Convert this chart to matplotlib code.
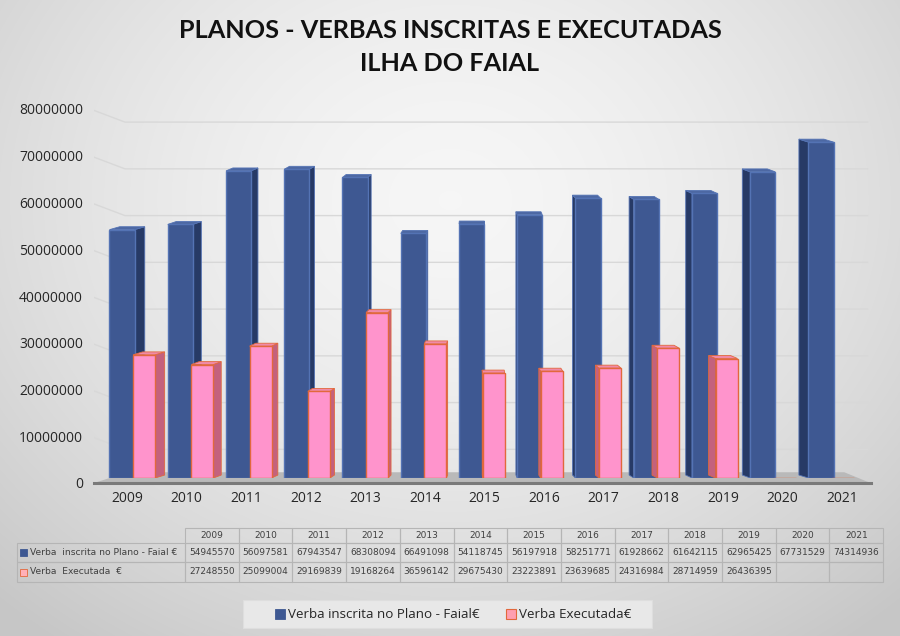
import numpy as np
import matplotlib
matplotlib.use("Agg")
import matplotlib.pyplot as plt
from matplotlib.patches import Polygon, Rectangle

years = ["2009", "2010", "2011", "2012", "2013", "2014", "2015", "2016",
         "2017", "2018", "2019", "2020", "2021"]
inscrita = [54945570, 56097581, 67943547, 68308094, 66491098, 54118745, 56197918,
            58251771, 61928662, 61642115, 62965425, 67731529, 74314936]
executada = [27248550, 25099004, 29169839, 19168264, 36596142, 29675430, 23223891,
             23639685, 24316984, 28714959, 26436395, None, None]
label_inscrita = "Verba inscrita no Plano - Faial€"
label_executada = "Verba Executada€"
row_inscrita = "Verba  inscrita no Plano - Faial €"
row_executada = "Verba  Executada  €"
title = "PLANOS - VERBAS INSCRITAS E EXECUTADAS\nILHA DO FAIAL"
yticks = [0, 10000000, 20000000, 30000000, 40000000, 50000000, 60000000, 70000000, 80000000]

W, H = 900, 636
fig = plt.figure(figsize=(W / 100, H / 100), dpi=100)

# background gradient
bg = fig.add_axes([0, 0, 1, 1], zorder=-10)
yy, xx = np.mgrid[0:H, 0:W]
r = np.sqrt(((xx - 450) / 620.0) ** 2 + ((yy - 200) / 520.0) ** 2)
g = np.clip(0.965 - 0.17 * r ** 1.6, 0.78, 1.0)
bg.imshow(np.dstack([g, g, g]), extent=[0, W, H, 0], aspect="auto")
bg.set_xlim(0, W); bg.set_ylim(H, 0); bg.axis("off")

# main chart axes (value axis, gridlines, floor)
ax = fig.add_axes([94 / W, 1 - 483 / H, 780 / W, (483 - 109) / H], facecolor="none")
n = len(years)
x = np.arange(n)
unit_px = 58.25
xl = -(122 - 94) / unit_px
xr = xl + 780 / unit_px
ax.set_xlim(xl, xr)
ax.set_ylim(0, 80000000)

for v in yticks[1:]:
    ax.plot([xl, 0.05, n - 0.2], [v - 300000, v - 2800000, v - 2800000],
            color="#d8d8d8", lw=1.0, zorder=0)

ax.add_patch(Polygon([[xl, 0], [n - 0.15, 0], [n - 0.6, 2300000], [0.1, 2300000]],
                     closed=True, facecolor="#b9b9b9", edgecolor="none", zorder=0.5))
ax.plot([xl, n - 0.15], [0, 0], color="#7a7a7a", lw=2.2, zorder=0.6, clip_on=False)

for s in ax.spines.values():
    s.set_visible(False)
tick_pos = (127 - 122) / unit_px + x * (59.6 / unit_px)
ax.set_xticks(tick_pos)
ax.set_xticklabels(years, fontsize=10, color="#262626", family="Open Sans")
ax.set_yticks(yticks)
ax.set_yticklabels([str(v) for v in yticks], fontsize=10, color="#262626", family="Open Sans")
ax.tick_params(length=0, pad=8)
ax.tick_params(axis="x", pad=6)

# bar plane axes (3D depth plane: slightly smaller scale, base on the floor)
base_px, px_per_m = 478, 4.52
bx = fig.add_axes([94 / W, 1 - base_px / H, 780 / W, (base_px - 109) / H], facecolor="none")
bx.set_xlim(xl, xr)
bx.set_ylim(0, (base_px - 109) / px_per_m * 1e6)
bx.axis("off")

bw_b, bw_p = 0.43, 0.378
off_b, off_p = 0.0, 0.378
dy = 650000


def draw_3d(xc, vals, width, front, side, top, edge, z, label):
    vals_arr = np.array([np.nan if v is None else v for v in vals], dtype=float)
    bx.bar(xc, np.nan_to_num(vals_arr), width=width, color=front, edgecolor=edge,
           linewidth=1.0, zorder=z + 0.2, label=label)
    for xi, v in zip(xc, vals_arr):
        if np.isnan(v):
            continue
        d = 0.17 * (6.2 - xi) / 6.0
        x0, x1 = xi - width / 2, xi + width / 2
        xe = x1 if d >= 0 else x0
        bx.add_patch(Polygon([[xe, 0], [xe, v], [xe + d, v + dy], [xe + d, dy]],
                             closed=True, facecolor=side, edgecolor=edge, lw=0.6, zorder=z))
        bx.add_patch(Polygon([[x0, v], [x1, v], [x1 + d, v + dy], [x0 + d, v + dy]],
                             closed=True, facecolor=top, edgecolor=edge, lw=0.6, zorder=z))


draw_3d(x + off_b, inscrita, bw_b, "#3e5892", "#273a66", "#4d68a3", "#5473b4", 2, label_inscrita)
draw_3d(x + off_p, executada, bw_p, "#ff94cc", "#c4617d", "#f08aa8", "#e2683c", 4, label_executada)

# title
fig.text(0.5, 1 - 47 / H, title, ha="center", va="center", fontsize=18.2,
         fontweight="bold", family="Lato", color="#111111", linespacing=1.5)

# data table (overlay in pixel coordinates)
ov = fig.add_axes([0, 0, 1, 1], facecolor="none", zorder=5)
ov.set_xlim(0, W); ov.set_ylim(H, 0); ov.axis("off")
col0, colw = 185.0, 53.7
rows_y = [528, 543, 562, 582]
lab_x0 = 17
ec = "#b5b5b5"
for i, yr in enumerate(years):
    cx = col0 + i * colw
    ov.add_patch(Rectangle((cx, rows_y[0]), colw, rows_y[1] - rows_y[0], fill=False, ec=ec, lw=0.8))
    ov.text(cx + colw / 2, (rows_y[0] + rows_y[1]) / 2, yr, ha="center", va="center",
            fontsize=6.5, color="#404040", family="DejaVu Sans")
series_rows = [(inscrita, row_inscrita, "#3e5892", "#3e5892"),
               (executada, row_executada, "#ffb0b8", "#e2683c")]
for r_i, (vals, lab, fc, ecm) in enumerate(series_rows):
    y0, y1 = rows_y[r_i + 1], rows_y[r_i + 2]
    ov.add_patch(Rectangle((lab_x0, y0), col0 - lab_x0, y1 - y0, fill=False, ec=ec, lw=0.8))
    ov.add_patch(Rectangle((lab_x0 + 3, (y0 + y1) / 2 - 3.5), 7, 7, fc=fc, ec=ecm, lw=0.6))
    ov.text(lab_x0 + 13, (y0 + y1) / 2, lab, ha="left", va="center", fontsize=6.6,
            color="#404040", family="DejaVu Sans")
    for i, v in enumerate(vals):
        cx = col0 + i * colw
        ov.add_patch(Rectangle((cx, y0), colw, y1 - y0, fill=False, ec=ec, lw=0.8))
        if v is not None:
            ov.text(cx + colw / 2, (y0 + y1) / 2, str(v), ha="center", va="center",
                    fontsize=6.5, color="#404040", family="DejaVu Sans")

# legend box
ov.add_patch(Rectangle((243, 600), 409, 28, fc="#e8e8e8", ec="#dedede", lw=0.8))
ov.add_patch(Rectangle((275, 609), 10, 10, fc="#3e5892", ec="#3e5892", lw=0.6))
ov.text(288, 614, label_inscrita, ha="left", va="center", fontsize=9.6,
        color="#262626", family="Open Sans")
ov.add_patch(Rectangle((506, 609), 10, 10, fc="#ff9fb0", ec="#e2683c", lw=0.8))
ov.text(519, 614, label_executada, ha="left", va="center", fontsize=9.6,
        color="#262626", family="Open Sans")

fig.savefig("out.png", dpi=100)
